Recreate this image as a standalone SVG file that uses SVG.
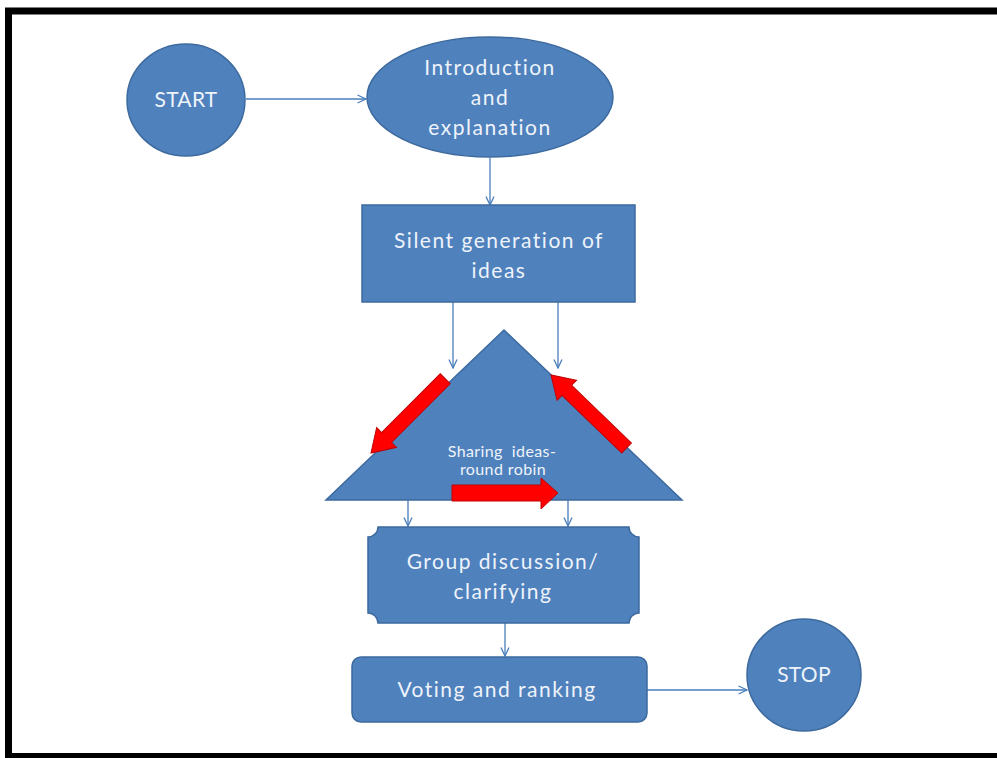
<svg xmlns="http://www.w3.org/2000/svg" width="997" height="758" viewBox="0 0 997 758">
  <style>
    .shape { fill: #4f81bd; stroke: #3d6a9e; stroke-width: 1.5; }
    .label { fill: #eef3fa; font-family: Lato, "Liberation Sans", sans-serif; text-anchor: middle; }
    .big { font-size: 21px; letter-spacing: 1.5px; }
    .small { font-size: 16px; letter-spacing: 0.4px; }
    .conn { fill: none; stroke: #4a7ebb; stroke-width: 1.3; }
    .red { fill: #ff0000; stroke: #c00000; stroke-width: 1; }
  </style>
  <defs>
    <marker id="head" viewBox="0 0 10 10" refX="9.5" refY="5" markerWidth="10" markerHeight="10" markerUnits="userSpaceOnUse" orient="auto">
      <polyline points="1,1 9.5,5 1,9" fill="none" stroke="#4a7ebb" stroke-width="1.3"/>
    </marker>
    <!-- block arrow pointing along +x, tip at x=0 -->
    <polygon id="blockArrow" class="red" points="-105,-7 -22,-7 -22,-14 0,0 -22,14 -22,7 -105,7"/>
  </defs>

  <rect x="0" y="0" width="997" height="758" fill="#ffffff"/>

  <!-- page frame -->
  <g id="frame" fill="none" stroke="#000000">
    <line x1="5" y1="11" x2="997" y2="11" stroke-width="7"/>
    <line x1="8.5" y1="8" x2="8.5" y2="758" stroke-width="7"/>
    <line x1="5" y1="755.5" x2="997" y2="755.5" stroke-width="5"/>
  </g>

  <g id="connectors">
    <line class="conn" x1="246" y1="99" x2="366" y2="99" marker-end="url(#head)"/>
    <line class="conn" x1="490" y1="158" x2="490" y2="205" marker-end="url(#head)"/>
    <line class="conn" x1="453" y1="302" x2="453" y2="368" marker-end="url(#head)"/>
    <line class="conn" x1="558" y1="302" x2="558" y2="368" marker-end="url(#head)"/>
    <line class="conn" x1="408" y1="500" x2="408" y2="526" marker-end="url(#head)"/>
    <line class="conn" x1="568" y1="500" x2="568" y2="526" marker-end="url(#head)"/>
    <line class="conn" x1="505" y1="623" x2="505" y2="656" marker-end="url(#head)"/>
    <line class="conn" x1="647" y1="690" x2="747" y2="690" marker-end="url(#head)"/>
  </g>

  <g id="start">
    <ellipse class="shape" cx="186" cy="100" rx="59" ry="56"/>
    <text class="label" x="186" y="107" font-size="21" letter-spacing="0.3">START</text>
  </g>

  <g id="introduction">
    <ellipse class="shape" cx="490" cy="97" rx="123" ry="60"/>
    <text class="label big" x="490" y="75">Introduction</text>
    <text class="label big" x="490" y="105">and</text>
    <text class="label big" x="490" y="135">explanation</text>
  </g>

  <g id="silent-generation">
    <rect class="shape" x="362" y="205" width="273" height="97"/>
    <text class="label big" x="499" y="248">Silent generation of</text>
    <text class="label big" x="499" y="278">ideas</text>
  </g>

  <g id="sharing">
    <polygon class="shape" points="504,330 682,500 326,500"/>
    <use href="#blockArrow" transform="translate(371,453) rotate(135)"/>
    <use href="#blockArrow" transform="translate(551,375) rotate(-136)"/>
    <polygon class="red" points="452,485 541,485 541,478 558,493 541,509 541,501 452,501"/>
    <text class="label small" x="502" y="457" xml:space="preserve">Sharing  ideas-</text>
    <text class="label small" x="503" y="475">round robin</text>
  </g>

  <g id="group-discussion">
    <path class="shape" d="M378,527 H629 A10,10 0 0 0 639,537 V613 A10,10 0 0 0 629,623 H378 A10,10 0 0 0 368,613 V537 A10,10 0 0 0 378,527 Z"/>
    <text class="label big" x="503" y="569">Group discussion/</text>
    <text class="label big" x="503" y="599">clarifying</text>
  </g>

  <g id="voting">
    <rect class="shape" x="352" y="657" width="295" height="65" rx="9" ry="9"/>
    <text class="label big" x="497" y="697">Voting and ranking</text>
  </g>

  <g id="stop">
    <ellipse class="shape" cx="804" cy="675" rx="57" ry="56"/>
    <text class="label" x="804" y="682" font-size="21" letter-spacing="0.3">STOP</text>
  </g>
</svg>
